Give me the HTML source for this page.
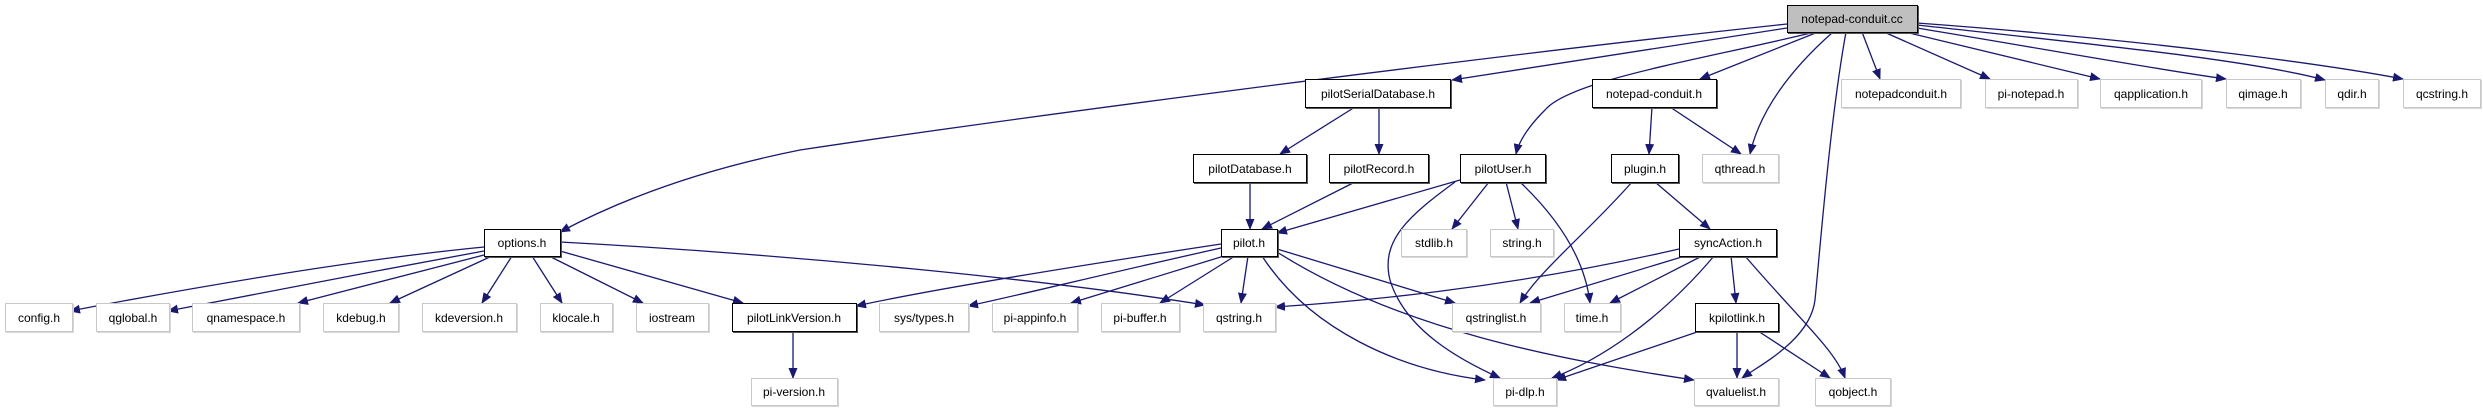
<!DOCTYPE html>
<html><head><meta charset="utf-8"><style>
html,body{margin:0;padding:0;background:#fff;}
svg{display:block;}
text{font-family:"Liberation Sans",Arial,sans-serif;font-size:12px;fill:#000;}
</style></head><body>
<svg width="2483" height="411" viewBox="0 0 2483 411" xmlns="http://www.w3.org/2000/svg">
<defs>
<marker id="a" markerWidth="11" markerHeight="9" refX="10" refY="4.5" orient="auto" markerUnits="userSpaceOnUse">
<path d="M0,0 L11,4.5 L0,9 Z" fill="#191970"/></marker>
<filter id="sd" x="-5%" y="-5%" width="115%" height="130%"><feOffset dx="1.5" dy="1.5" in="SourceAlpha"/><feFlood flood-color="#555"/><feComposite operator="in" in2="SourceAlpha"/></filter>
</defs>
<g fill="none" stroke="#191970" stroke-width="1.3" marker-end="url(#a)">
<path d="M1787,24 C1450,60 1000,120 800,150 C700,170 620,200 560,232"/>
<path d="M1787,28 C1650,50 1520,70 1452,80"/>
<path d="M1815,32 C1700,60 1570,80 1545,110 C1525,130 1518,145 1516,154"/>
<path d="M1818,32 L1700,79"/>
<path d="M1833,32 C1790,70 1760,110 1750,154"/>
<path d="M1846,32 C1830,120 1820,250 1815,300 C1810,340 1760,365 1742,378"/>
<path d="M1862,32 L1880,79"/>
<path d="M1884,32 L1990,79"/>
<path d="M1905,32 L2100,79"/>
<path d="M1917,28 C2050,50 2160,70 2226,79"/>
<path d="M1917,25 C2100,45 2250,60 2325,80"/>
<path d="M1917,23 C2150,40 2330,65 2403,79"/>
<path d="M1355,107 L1280,154"/>
<path d="M1379,107 L1379,154"/>
<path d="M1652,107 L1649,154"/>
<path d="M1670,107 L1741,154"/>
<path d="M1250,182 L1250,229"/>
<path d="M1355,182 L1262,229"/>
<path d="M1460,180 L1277,233"/>
<path d="M1489,182 L1452,229"/>
<path d="M1506,182 L1518,229"/>
<path d="M1520,182 C1560,220 1585,260 1590,303"/>
<path d="M1455,182 C1410,215 1380,240 1390,280 C1405,330 1460,360 1500,378"/>
<path d="M1632,182 C1590,230 1540,270 1520,303"/>
<path d="M1655,182 L1710,229"/>
<path d="M484,247 C350,260 180,290 70,311"/>
<path d="M484,251 C380,270 250,295 168,311"/>
<path d="M484,255 L298,303"/>
<path d="M492,256 L390,303"/>
<path d="M512,256 L482,303"/>
<path d="M532,256 L562,303"/>
<path d="M549,256 L643,303"/>
<path d="M560,251 L743,303"/>
<path d="M560,242 C800,255 1050,280 1205,305"/>
<path d="M793,331 L793,378"/>
<path d="M1221,244 C1050,270 920,292 856,306"/>
<path d="M1221,248 C1100,275 1020,295 968,306"/>
<path d="M1224,256 L1071,303"/>
<path d="M1235,256 L1160,303"/>
<path d="M1248,256 L1241,303"/>
<path d="M1277,249 L1455,303"/>
<path d="M1262,256 C1310,330 1400,370 1485,380"/>
<path d="M1277,252 C1400,330 1560,360 1694,380"/>
<path d="M1679,249 C1500,290 1350,302 1275,307"/>
<path d="M1685,256 L1530,303"/>
<path d="M1702,256 L1610,303"/>
<path d="M1714,256 C1660,320 1600,360 1552,378"/>
<path d="M1731,256 L1736,303"/>
<path d="M1745,256 C1800,320 1835,350 1845,378"/>
<path d="M1700,331 L1556,380"/>
<path d="M1737,331 L1737,378"/>
<path d="M1758,331 L1830,378"/>
</g>
<g id="bk">
<rect x="1787.5" y="5.5" width="130" height="27"/>
<rect x="1305.5" y="79.5" width="145" height="28"/>
<rect x="1592.5" y="79.5" width="124" height="28"/>
<rect x="1193.5" y="154.5" width="113" height="28"/>
<rect x="1329.5" y="154.5" width="99" height="28"/>
<rect x="1460.5" y="154.5" width="85" height="28"/>
<rect x="1611.5" y="154.5" width="67" height="28"/>
<rect x="484.5" y="229.5" width="76" height="27"/>
<rect x="1221.5" y="229.5" width="56" height="27"/>
<rect x="1679.5" y="229.5" width="97" height="27"/>
<rect x="732.5" y="303.5" width="124" height="28"/>
<rect x="1695.5" y="303.5" width="83" height="28"/>
</g>
<g id="gy">
<rect x="1841.5" y="79.5" width="119" height="28"/>
<rect x="1985.5" y="79.5" width="92" height="28"/>
<rect x="2100.5" y="79.5" width="101" height="28"/>
<rect x="2226.5" y="79.5" width="74" height="28"/>
<rect x="2325.5" y="79.5" width="53" height="28"/>
<rect x="2403.5" y="79.5" width="77" height="28"/>
<rect x="1702.5" y="154.5" width="76" height="28"/>
<rect x="1401.5" y="229.5" width="65" height="27"/>
<rect x="1490.5" y="229.5" width="63" height="27"/>
<rect x="5.5" y="303.5" width="67" height="28"/>
<rect x="96.5" y="303.5" width="73" height="28"/>
<rect x="192.5" y="303.5" width="107" height="28"/>
<rect x="323.5" y="303.5" width="75" height="28"/>
<rect x="422.5" y="303.5" width="94" height="28"/>
<rect x="540.5" y="303.5" width="72" height="28"/>
<rect x="636.5" y="303.5" width="72" height="28"/>
<rect x="879.5" y="303.5" width="89" height="28"/>
<rect x="992.5" y="303.5" width="85" height="28"/>
<rect x="1101.5" y="303.5" width="78" height="28"/>
<rect x="1203.5" y="303.5" width="72" height="28"/>
<rect x="1452.5" y="303.5" width="88" height="28"/>
<rect x="1564.5" y="303.5" width="56" height="28"/>
<rect x="751.5" y="378.5" width="86" height="27"/>
<rect x="1493.5" y="378.5" width="63" height="27"/>
<rect x="1694.5" y="378.5" width="84" height="27"/>
<rect x="1815.5" y="378.5" width="75" height="27"/>
</g>
<style>
#bk rect{fill:#fff;stroke:#000;stroke-width:1;filter:drop-shadow(1.5px 1.5px 0 #555);}
#bk rect:first-child{fill:#bfbfbf;}
#gy rect{fill:#fff;stroke:#c8c8c8;stroke-width:1;filter:drop-shadow(1.5px 1.5px 0 #d8d8d8);}
</style>
<g text-anchor="middle">
<text x="1852" y="23">notepad-conduit.cc</text>
<text x="1378" y="98">pilotSerialDatabase.h</text>
<text x="1654" y="98">notepad-conduit.h</text>
<text x="1901" y="98">notepadconduit.h</text>
<text x="2031" y="98">pi-notepad.h</text>
<text x="2151" y="98">qapplication.h</text>
<text x="2263" y="98">qimage.h</text>
<text x="2352" y="98">qdir.h</text>
<text x="2442" y="98">qcstring.h</text>
<text x="1250" y="173">pilotDatabase.h</text>
<text x="1379" y="173">pilotRecord.h</text>
<text x="1503" y="173">pilotUser.h</text>
<text x="1645" y="173">plugin.h</text>
<text x="1740" y="173">qthread.h</text>
<text x="522" y="247">options.h</text>
<text x="1249" y="247">pilot.h</text>
<text x="1434" y="247">stdlib.h</text>
<text x="1522" y="247">string.h</text>
<text x="1728" y="247">syncAction.h</text>
<text x="39" y="322">config.h</text>
<text x="133" y="322">qglobal.h</text>
<text x="246" y="322">qnamespace.h</text>
<text x="361" y="322">kdebug.h</text>
<text x="469" y="322">kdeversion.h</text>
<text x="576" y="322">klocale.h</text>
<text x="672" y="322">iostream</text>
<text x="794" y="322">pilotLinkVersion.h</text>
<text x="924" y="322">sys/types.h</text>
<text x="1035" y="322">pi-appinfo.h</text>
<text x="1140" y="322">pi-buffer.h</text>
<text x="1239" y="322">qstring.h</text>
<text x="1496" y="322">qstringlist.h</text>
<text x="1592" y="322">time.h</text>
<text x="1737" y="322">kpilotlink.h</text>
<text x="794" y="396">pi-version.h</text>
<text x="1525" y="396">pi-dlp.h</text>
<text x="1736" y="396">qvaluelist.h</text>
<text x="1853" y="396">qobject.h</text>
</g>
</svg>
</body></html>
